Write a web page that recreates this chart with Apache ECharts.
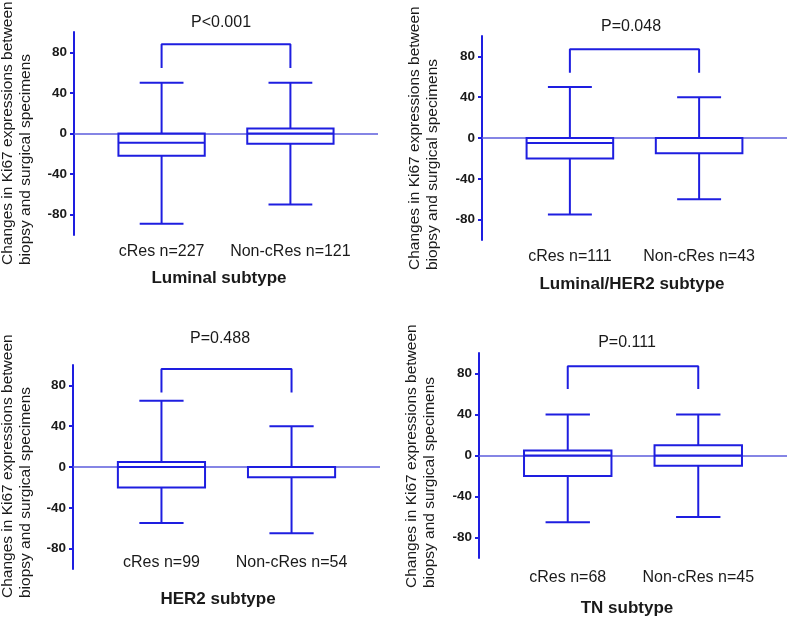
<!DOCTYPE html>
<html>
<head>
<meta charset="utf-8">
<script src="https://cdn.jsdelivr.net/npm/echarts@6/dist/echarts.min.js"></script>
<style>
  html, body { margin: 0; padding: 0; background: #fff; }
  #chart { width: 787px; height: 618px; }
</style>
</head>
<body>
<div id="chart"></div>
<script>
// data: [x, min, Q1, median, Q3, max]
const lumBoxes = [[1, -89, -22, -9, 0, 50], [2, -70, -10, 0, 5, 50]];
const lumHerBoxes = [[1, -75, -20, -5, 0, 50], [2, -60, -15, 0, 0, 40]];
const herBoxes = [[1, -55, -20, 0, 5, 65], [2, -65, -10, 0, 0, 40]];
const tnBoxes = [[1, -65, -20, 0, 5, 40], [2, -60, -10, 0, 10, 40]];

const lumCats = ["cRes n=227", "Non-cRes n=121"];
const lumHerCats = ["cRes n=111", "Non-cRes n=43"];
const herCats = ["cRes n=99", "Non-cRes n=54"];
const tnCats = ["cRes n=68", "Non-cRes n=45"];

// bracket: [leg bottom, top]
const lumBracket = [64.5, 88];
const lumHerBracket = [64, 87];
const herBracket = [73, 96];
const tnBracket = [65, 87];

const pValues = ["P<0.001", "P=0.048", "P=0.488", "P=0.111"];
const subtypes = ["Luminal subtype", "Luminal/HER2 subtype", "HER2 subtype", "TN subtype"];
const yTicks = [-80, -40, 0, 40, 80];
const yTitle = "Changes in Ki67 expressions between\nbiopsy and surgical specimens";

const BLUE = "#1e1ee0";
const FONT = "'Liberation Sans', Arial, sans-serif";
const BOX_W = 0.67;
const CAP_W = 0.34;

const panels = [
  { boxes: lumBoxes, cats: lumCats, bracket: lumBracket, grid: { left: 74, top: 32, width: 304, height: 203 }, margin: 9,
    p: [221, 23], sub: [219, 278], yt: [-1, 265] },
  { boxes: lumHerBoxes, cats: lumHerCats, bracket: lumHerBracket, grid: { left: 482, top: 36, width: 306, height: 204 }, margin: 9,
    p: [631, 27], sub: [632, 284], yt: [406, 270] },
  { boxes: herBoxes, cats: herCats, bracket: herBracket, grid: { left: 73, top: 365, width: 307, height: 204 }, margin: -14,
    p: [220, 339], sub: [218, 599], yt: [-1, 598] },
  { boxes: tnBoxes, cats: tnCats, bracket: tnBracket, grid: { left: 479, top: 353, width: 308, height: 205 }, margin: 12,
    p: [627, 343], sub: [627, 608], yt: [403, 588] }
];

function renderBox(params, api) {
  const x = api.value(0);
  const lo = api.coord([x, api.value(1)]);
  const q1 = api.coord([x, api.value(2)]);
  const md = api.coord([x, api.value(3)]);
  const q3 = api.coord([x, api.value(4)]);
  const hi = api.coord([x, api.value(5)]);
  const bw = api.size([BOX_W, 0])[0];
  const cw = api.size([CAP_W, 0])[0];
  const cx = md[0];
  const style = { stroke: BLUE, lineWidth: 2, fill: null };
  const line = (x1, y1, x2, y2) => ({ type: "line", shape: { x1, y1, x2, y2 }, style });
  return {
    type: "group",
    children: [
      { type: "rect", shape: { x: cx - bw / 2, y: q3[1], width: bw, height: q1[1] - q3[1] }, style },
      line(cx - bw / 2, md[1], cx + bw / 2, md[1]),
      line(cx, q3[1], cx, hi[1]),
      line(cx, q1[1], cx, lo[1]),
      line(cx - cw / 2, hi[1], cx + cw / 2, hi[1]),
      line(cx - cw / 2, lo[1], cx + cw / 2, lo[1])
    ]
  };
}

const grids = [], xAxes = [], yAxes = [], series = [], graphics = [];
panels.forEach((pn, i) => {
  grids.push(pn.grid);
  xAxes.push({
    type: "value", gridIndex: i, min: 0.32, max: 2.68,
    axisLine: { show: false }, axisTick: { show: false }, splitLine: { show: false },
    axisLabel: {
      customValues: [1, 2], margin: pn.margin,
      formatter: v => pn.cats[Math.round(v) - 1],
      fontSize: 16, color: "#1a1a1a", fontFamily: FONT
    }
  });
  yAxes.push({
    type: "value", gridIndex: i, min: -100, max: 100, interval: 20,
    splitLine: { show: false },
    axisLine: { show: true, lineStyle: { color: BLUE, width: 2 } },
    axisTick: { show: true, customValues: yTicks, length: 4, lineStyle: { color: BLUE, width: 2 } },
    axisLabel: { customValues: yTicks, margin: 7, fontSize: 13.5, fontWeight: "bold", color: "#1a1a1a", fontFamily: FONT }
  });
  series.push({
    type: "custom", xAxisIndex: i, yAxisIndex: i, renderItem: renderBox, data: pn.boxes, silent: true, z: 3,
    markLine: {
      silent: true, symbol: "none", label: { show: false }, z: 2,
      lineStyle: { color: "#5c5cdc", width: 1.5, type: "solid", opacity: 1 },
      emphasis: { disabled: true },
      data: [{ yAxis: 0 }]
    }
  });
  series.push({
    type: "line", xAxisIndex: i, yAxisIndex: i, symbol: "none", silent: true,
    lineStyle: { color: BLUE, width: 2 },
    data: [[1, pn.bracket[0]], [1, pn.bracket[1]], [2, pn.bracket[1]], [2, pn.bracket[0]]]
  });
  graphics.push({
    type: "text", x: pn.p[0], y: pn.p[1],
    style: { text: pValues[i], font: "16px " + FONT, fill: "#1a1a1a", align: "center", verticalAlign: "middle", textAlign: "center", textVerticalAlign: "middle" }
  });
  graphics.push({
    type: "text", x: pn.sub[0], y: pn.sub[1],
    style: { text: subtypes[i], font: "bold 17px " + FONT, fill: "#1a1a1a", align: "center", verticalAlign: "middle", textAlign: "center", textVerticalAlign: "middle" }
  });
  graphics.push({
    type: "text", x: pn.yt[0], y: pn.yt[1], rotation: Math.PI / 2,
    style: { text: yTitle, font: "15.5px " + FONT, lineHeight: 18, fill: "#1a1a1a", align: "left", verticalAlign: "top", textAlign: "left", textVerticalAlign: "top" }
  });
});

const chart = echarts.init(document.getElementById("chart"));
chart.setOption({
  animation: false,
  backgroundColor: "#fff",
  grid: grids,
  xAxis: xAxes,
  yAxis: yAxes,
  series: series,
  graphic: graphics
});
</script>
</body>
</html>
